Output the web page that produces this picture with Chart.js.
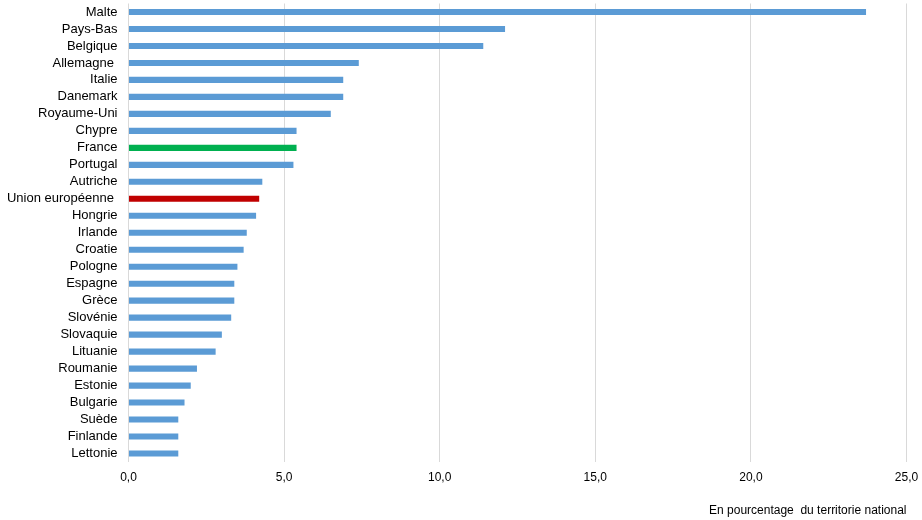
<!DOCTYPE html>
<html>
<head>
<meta charset="utf-8">
<script src="https://cdn.jsdelivr.net/npm/chart.js@4/dist/chart.umd.min.js"></script>
<style>
  html, body { margin: 0; padding: 0; background: #ffffff; }
  #wrap { width: 922px; height: 520px; position: relative; }
</style>
</head>
<body>
<div id="wrap"><canvas id="c" width="922" height="520"></canvas></div>
<script>
const categories = ["Malte","Pays-Bas","Belgique","Allemagne ","Italie","Danemark","Royaume-Uni","Chypre","France","Portugal","Autriche","Union européenne ","Hongrie","Irlande","Croatie","Pologne","Espagne","Grèce","Slovénie","Slovaquie","Lituanie","Roumanie","Estonie","Bulgarie","Suède","Finlande","Lettonie"];
const values = [23.7,12.1,11.4,7.4,6.9,6.9,6.5,5.4,5.4,5.3,4.3,4.2,4.1,3.8,3.7,3.5,3.4,3.4,3.3,3.0,2.8,2.2,2.0,1.8,1.6,1.6,1.6];
const xTicks = [0,5,10,15,20,25];
const axisTitle = "En pourcentage  du territorie national";

const colorFor = (lab) => lab.trim() === "France" ? "#00B050" : (lab.trim() === "Union européenne" ? "#C00000" : "#5B9BD5");

new Chart(document.getElementById("c"), {
  type: "bar",
  data: {
    labels: categories,
    datasets: [{
      data: values,
      backgroundColor: categories.map(colorFor),
      borderWidth: 0,
      categoryPercentage: 1.0,
      barPercentage: 0.36
    }]
  },
  options: {
    indexAxis: "y",
    responsive: false,
    animation: false,
    devicePixelRatio: 1,
    layout: { padding: { top: 3.5, right: 15.5, bottom: 0, left: 0 } },
    plugins: { legend: { display: false }, tooltip: { enabled: false } },
    scales: {
      x: {
        min: 0, max: 25,
        afterBuildTicks: (s) => { s.ticks = xTicks.map(v => ({ value: v })); },
        afterFit: (s) => { s.height = 58; s.paddingLeft = 0; s.paddingRight = 0; },
        grid: { color: "#d9d9d9", lineWidth: 1, drawTicks: false },
        border: { display: false },
        ticks: {
          padding: 8,
          color: "#000000",
          font: { family: "'Liberation Sans', Arial, sans-serif", size: 12 },
          callback: (v) => Number(v).toFixed(1).replace(".", ",")
        },
        title: {
          display: true,
          text: axisTitle,
          align: "end",
          color: "#000000",
          font: { family: "'Liberation Sans', Arial, sans-serif", size: 12 },
          padding: { top: 17, bottom: 2 }
        }
      },
      y: {
        grid: { display: false, drawTicks: false },
        border: { display: false },
        afterFit: (s) => { s.width = 128.5; s.paddingTop = 0; s.paddingBottom = 0; },
        ticks: {
          padding: 11,
          color: "#000000",
          autoSkip: false,
          font: { family: "'Liberation Sans', Arial, sans-serif", size: 13 }
        }
      }
    }
  }
});
</script>
</body>
</html>
